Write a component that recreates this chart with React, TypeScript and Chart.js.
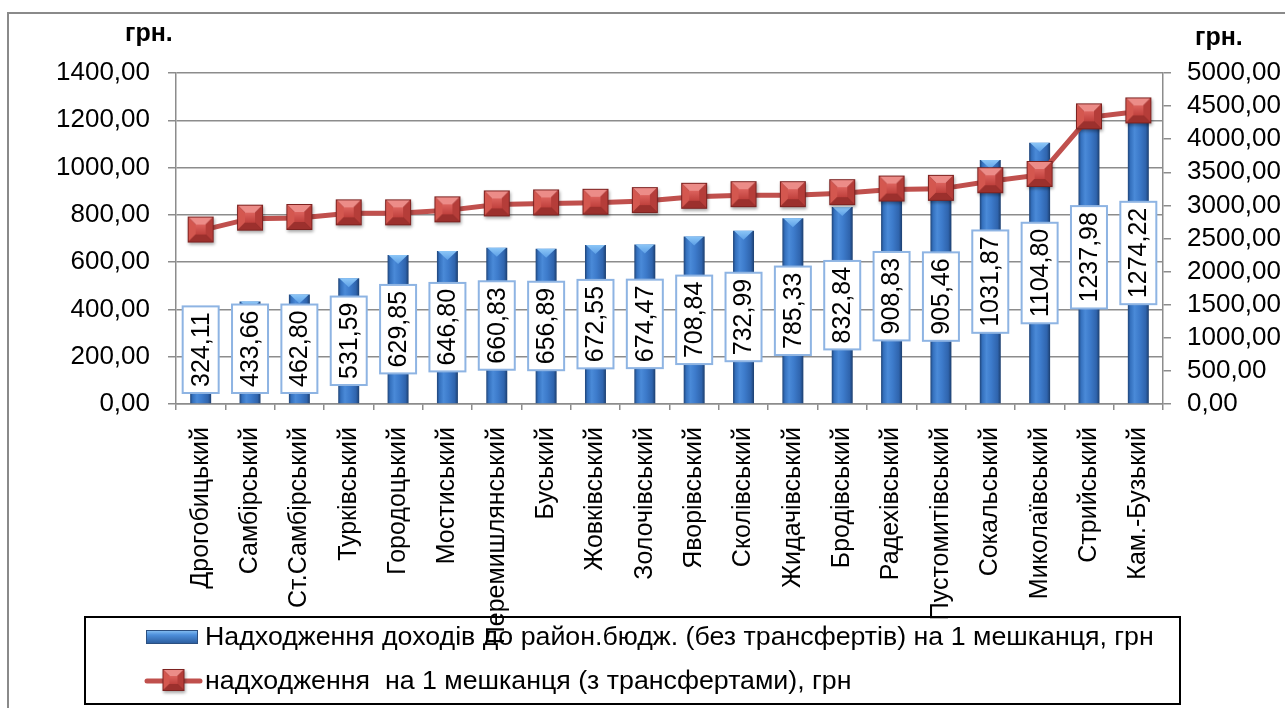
import React, { useEffect, useRef } from 'react';
import { Chart, registerables } from 'chart.js';

Chart.register(...registerables);

const categories = [
  'Дрогобицький', 'Самбірський', 'Ст.Самбірський', 'Турківський', 'Городоцький',
  'Мостиський', 'Перемишлянський', 'Буський', 'Жовківський', 'Золочівський',
  'Яворівський', 'Сколівський', 'Жидачівський', 'Бродівський', 'Радехівський',
  'Пустомитівський', 'Сокальський', 'Миколаївський', 'Стрийський', 'Кам.-Бузький',
];

const barValues = [
  324.11, 433.66, 462.8, 531.59, 629.85, 646.8, 660.83, 656.89, 672.55, 674.47,
  708.84, 732.99, 785.33, 832.84, 908.83, 905.46, 1031.87, 1104.8, 1237.98, 1274.22,
];

const lineValues = [
  2620, 2800, 2810, 2880, 2880, 2925, 3015, 3030, 3040, 3065,
  3130, 3155, 3155, 3185, 3240, 3250, 3365, 3460, 4330, 4420,
];

const barLabel = 'Надходження доходів до район.бюдж. (без трансфертів) на 1 мешканця, грн';
const lineLabel = 'надходження  на 1 мешканця (з трансфертами), грн';
const unitLabel = 'грн.';

const leftMax = 1400;
const leftStep = 200;
const rightMax = 5000;
const rightStep = 500;

const FONT = '"Liberation Sans", Arial, sans-serif';
const CAT_PCT = 0.85;
const BAR_PCT = 0.5;
const GRID = '#8c8c8c';

const fmt = (v: number) => v.toFixed(2).replace('.', ',');

function makeMarker(size: number): HTMLCanvasElement {
  const pad = Math.round(size * 0.22);
  const c = document.createElement('canvas');
  c.width = size + pad * 2;
  c.height = size + pad * 2;
  const g = c.getContext('2d')!;
  const x0 = pad;
  const y0 = pad - 1;
  const s = size;
  g.save();
  g.shadowColor = 'rgba(0,0,0,0.35)';
  g.shadowBlur = 3;
  g.shadowOffsetY = 2;
  g.shadowOffsetX = 1;
  g.fillStyle = '#7d2220';
  g.fillRect(x0, y0, s, s);
  g.restore();
  const b = Math.round(s * 0.26);
  const poly = (pts: number[][], fill: string | CanvasGradient) => {
    g.beginPath();
    g.moveTo(pts[0][0], pts[0][1]);
    for (let i = 1; i < pts.length; i++) g.lineTo(pts[i][0], pts[i][1]);
    g.closePath();
    g.fillStyle = fill;
    g.fill();
  };
  const L = x0 + 1, T = y0 + 1, R = x0 + s - 1, B = y0 + s - 1;
  poly([[L, T], [R, T], [R - b, T + b], [L + b, T + b]], '#ec8c88');
  poly([[L, T], [L + b, T + b], [L + b, B - b], [L, B]], '#d4574f');
  poly([[R, T], [R, B], [R - b, B - b], [R - b, T + b]], '#b53d39');
  poly([[L, B], [R, B], [R - b, B - b], [L + b, B - b]], '#9c302d');
  const ig = g.createLinearGradient(0, T + b, 0, B - b);
  ig.addColorStop(0, '#dc625d');
  ig.addColorStop(1, '#c0413d');
  poly([[L + b, T + b], [R - b, T + b], [R - b, B - b], [L + b, B - b]], ig);
  return c;
}

export default function App() {
  const ref = useRef<HTMLCanvasElement | null>(null);

  useEffect(() => {
    const canvas = ref.current;
    if (!canvas) return;
    const marker = makeMarker(26);
    const legendMarker = makeMarker(22);

    const framePlugin = {
      id: 'frame',
      beforeDraw(chart: any) {
        const ctx = chart.ctx;
        ctx.save();
        ctx.strokeStyle = '#8a8a8a';
        ctx.lineWidth = 2;
        ctx.strokeRect(8, 13, 1400, 800);
        ctx.restore();
      },
    };

    const barDecor = {
      id: 'barDecor',
      afterDatasetDraw(chart: any, args: any) {
        if (args.index !== 0) return;
        const ctx = chart.ctx;
        const meta = chart.getDatasetMeta(0);
        const area = chart.chartArea;
        ctx.save();
        meta.data.forEach((el: any) => {
          const w = el.width;
          const x = el.x;
          const top = el.y;
          const cg = ctx.createLinearGradient(0, top, 0, top + 9);
          cg.addColorStop(0, '#8cc6f7');
          cg.addColorStop(1, '#5c9fe6');
          ctx.beginPath();
          ctx.moveTo(x - w / 2 + 1, top);
          ctx.lineTo(x + w / 2 - 1, top);
          ctx.lineTo(x, top + 9);
          ctx.closePath();
          ctx.fillStyle = cg;
          ctx.fill();
        });
        ctx.font = `25px ${FONT}`;
        meta.data.forEach((el: any, i: number) => {
          const text = fmt(barValues[i]);
          const tw = ctx.measureText(text).width;
          const h = tw + 12;
          const w = 36;
          let cy = (el.y + el.base) / 2;
          const maxBottom = area.bottom - 11;
          if (cy + h / 2 > maxBottom) cy = maxBottom - h / 2;
          ctx.fillStyle = '#ffffff';
          ctx.fillRect(el.x - w / 2, cy - h / 2, w, h);
          ctx.strokeStyle = '#8eb4e3';
          ctx.lineWidth = 2;
          ctx.strokeRect(el.x - w / 2, cy - h / 2, w, h);
          ctx.save();
          ctx.translate(el.x + 1, cy);
          ctx.rotate(-Math.PI / 2);
          ctx.textAlign = 'center';
          ctx.textBaseline = 'middle';
          ctx.fillStyle = '#000';
          ctx.fillText(text, 0, 0);
          ctx.restore();
        });
        ctx.restore();
      },
    };

    const textPlugin = {
      id: 'texts',
      afterDraw(chart: any) {
        const ctx = chart.ctx;
        ctx.save();
        ctx.fillStyle = '#000';
        ctx.font = `bold 25px ${FONT}`;
        ctx.textBaseline = 'alphabetic';
        ctx.textAlign = 'left';
        ctx.fillText(unitLabel, 125, 41);
        ctx.fillText(unitLabel, 1195, 45);

        // legend frame
        ctx.strokeStyle = '#000';
        ctx.lineWidth = 2;
        ctx.strokeRect(85, 617, 1095, 87);

        // bar symbol
        const bg = ctx.createLinearGradient(0, 630, 0, 644);
        bg.addColorStop(0, '#8cc4f4');
        bg.addColorStop(0.35, '#4d8fdb');
        bg.addColorStop(1, '#2a5a9a');
        ctx.fillStyle = bg;
        ctx.fillRect(146, 630, 52, 14);
        ctx.strokeStyle = '#2b4f80';
        ctx.lineWidth = 1;
        ctx.strokeRect(146.5, 630.5, 51, 13);

        // line symbol
        ctx.strokeStyle = '#c0504d';
        ctx.lineWidth = 5;
        ctx.lineCap = 'round';
        ctx.beginPath();
        ctx.moveTo(147, 681);
        ctx.lineTo(200, 681);
        ctx.stroke();
        ctx.drawImage(legendMarker, 173.5 - legendMarker.width / 2, 681 - legendMarker.height / 2);

        ctx.fillStyle = '#000';
        ctx.font = `25px ${FONT}`;
        ctx.textBaseline = 'middle';
        ctx.save();
        ctx.translate(205, 0);
        ctx.scale(1.07, 1);
        ctx.fillText(barLabel, 0, 638);
        ctx.fillText(lineLabel, 0, 682);
        ctx.restore();
        ctx.restore();
      },
    };

    const chart = new Chart(canvas, {
      type: 'bar',
      data: {
        labels: categories,
        datasets: [
          {
            type: 'bar',
            label: barLabel,
            data: barValues,
            yAxisID: 'y',
            order: 1,
            categoryPercentage: CAT_PCT,
            barPercentage: BAR_PCT,
            borderWidth: 0,
            backgroundColor: (c: any) => {
              const ch = c.chart;
              const xs = ch.scales && ch.scales.x;
              if (c.type !== 'data' || !xs || !ch.chartArea) return '#3a76c4';
              const x = xs.getPixelForValue(c.dataIndex);
              const w = (xs.width / categories.length) * CAT_PCT * BAR_PCT;
              if (!isFinite(x) || !isFinite(w) || w <= 0) return '#3a76c4';
              const g = ch.ctx.createLinearGradient(x - w / 2, 0, x + w / 2, 0);
              g.addColorStop(0, '#1f4478');
              g.addColorStop(0.12, '#3470bd');
              g.addColorStop(0.32, '#4a8ad8');
              g.addColorStop(0.55, '#3d7bcb');
              g.addColorStop(0.85, '#2f64ad');
              g.addColorStop(1, '#1c3e6e');
              return g;
            },
          } as any,
          {
            type: 'line',
            label: lineLabel,
            data: lineValues,
            yAxisID: 'y1',
            order: 0,
            borderColor: '#c0504d',
            backgroundColor: '#c0504d',
            borderWidth: 5,
            pointStyle: marker,
            pointRadius: 13,
            pointHoverRadius: 13,
            tension: 0,
            fill: false,
          } as any,
        ],
      },
      options: {
        responsive: false,
        animation: false,
        layout: { padding: { top: 73, left: 0, right: 0, bottom: 0 } },
        plugins: {
          legend: { display: false },
          tooltip: { enabled: false },
        },
        scales: {
          x: {
            offset: true,
            grid: {
              offset: true,
              drawOnChartArea: false,
              drawTicks: true,
              tickLength: 6,
              color: GRID,
              lineWidth: 1.5,
            },
            border: { display: true, color: GRID, width: 1.5 },
            ticks: {
              autoSkip: false,
              maxRotation: 90,
              minRotation: 90,
              padding: 17,
              color: '#000',
              font: { family: FONT, size: 25 },
            },
            afterFit: (s: any) => {
              s.height = 708 - 404;
            },
          },
          y: {
            position: 'left',
            min: 0,
            max: leftMax,
            ticks: {
              stepSize: leftStep,
              autoSkip: false,
              padding: 18,
              color: '#000',
              font: { family: FONT, size: 26 },
              callback: (v: any) => fmt(Number(v)),
            },
            grid: {
              color: GRID,
              lineWidth: 1.5,
              tickLength: 8,
              drawTicks: true,
            },
            border: { display: true, color: GRID, width: 1.5 },
            afterFit: (s: any) => {
              s.width = 176;
            },
          },
          y1: {
            position: 'right',
            min: 0,
            max: rightMax,
            ticks: {
              stepSize: rightStep,
              autoSkip: false,
              padding: 16,
              color: '#000',
              font: { family: FONT, size: 26 },
              callback: (v: any) => fmt(Number(v)),
            },
            grid: {
              drawOnChartArea: false,
              color: GRID,
              lineWidth: 1.5,
              tickLength: 8,
              drawTicks: true,
            },
            border: { display: true, color: GRID, width: 1.5 },
            afterFit: (s: any) => {
              s.width = 1285 - 1163;
            },
          },
        },
      } as any,
      plugins: [framePlugin, barDecor, textPlugin],
    });

    return () => {
      chart.destroy();
    };
  }, []);

  return (
    <div style={{ position: 'fixed', left: 0, top: 0, width: 1285, height: 708, background: '#fff' }}>
      <canvas ref={ref} width={1285} height={708} style={{ display: 'block', width: 1285, height: 708 }} />
    </div>
  );
}
